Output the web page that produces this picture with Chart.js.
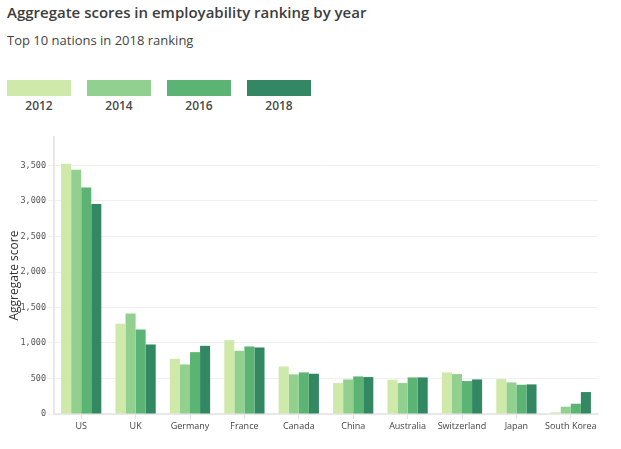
<!DOCTYPE html>
<html>
<head>
<meta charset="utf-8">
<script src="https://cdn.jsdelivr.net/npm/chart.js@4"></script>
<style>
  body { margin: 0; background: #fff; font-family: "Open Sans", sans-serif; }
  #wrap { position: relative; width: 621px; height: 449px; overflow: hidden; }
  #title { position: absolute; left: 7px; top: 2px; font-size: 15px; font-weight: 600; color: #3d3d3d; }
  #subtitle { position: absolute; left: 7px; top: 31px; font-size: 13px; color: #444; }
  #legend { position: absolute; left: 7px; top: 80px; }
  .item { position: absolute; top: 0; width: 64px; text-align: center; }
  .swatch { width: 64px; height: 16px; }
  .lbl { font-size: 12px; font-weight: 600; color: #4a4a4a; margin-top: 1px; }
  #box { position: absolute; left: 0; top: 130px; width: 610px; height: 319px; }
</style>
</head>
<body>
<div id="wrap">
  <div id="title">Aggregate scores in employability ranking by year</div>
  <div id="subtitle">Top 10 nations in 2018 ranking</div>
  <div id="legend"></div>
  <div id="box"><canvas id="c"></canvas></div>
</div>
<script>
const countries = ["US", "UK", "Germany", "France", "Canada", "China", "Australia", "Switzerland", "Japan", "South Korea"];
const years = ["2012", "2014", "2016", "2018"];
const colors = ["#cfe9ab", "#92d08f", "#5bb474", "#338763"];
const yTicks = [0, 500, 1000, 1500, 2000, 2500, 3000, 3500];

const s2012 = [3523, 1270, 778, 1040, 670, 436, 483, 586, 492, 23];
const s2014 = [3439, 1415, 698, 890, 558, 487, 436, 562, 445, 103];
const s2016 = [3190, 1190, 871, 951, 586, 529, 515, 464, 412, 145];
const s2018 = [2956, 979, 960, 937, 567, 520, 515, 487, 417, 309];
const series = [s2012, s2014, s2016, s2018];

const i = id => document.getElementById(id);

// legend: coloured strip with year below
years.forEach((y, k) => {
  const d = document.createElement("div");
  d.className = "item";
  d.style.left = (k * 80) + "px";
  d.innerHTML = '<div class="swatch" style="background:' + colors[k] + '"></div><div class="lbl">' + y + '</div>';
  i("legend").appendChild(d);
});

new Chart(i("c"), {
  type: "bar",
  data: {
    labels: countries,
    datasets: years.map((y, k) => ({
      label: y,
      data: series[k],
      backgroundColor: colors[k],
      borderWidth: 0,
      barPercentage: 1,
      categoryPercentage: 0.74
    }))
  },
  options: {
    responsive: true,
    maintainAspectRatio: false,
    animation: false,
    layout: { padding: { top: 7, right: 12, left: 0, bottom: 0 } },
    plugins: { legend: { display: false }, tooltip: { enabled: false } },
    scales: {
      x: {
        grid: { display: true, drawOnChartArea: false, offset: false, tickLength: 5, color: "#e2e2e2" },
        border: { color: "#e8e8e8", width: 2 },
        ticks: { color: "#444", font: { family: "Open Sans", size: 9 }, padding: 2, maxRotation: 0, autoSkip: false },
        afterFit: s => { s.height = 35; }
      },
      y: {
        min: 0,
        max: 3900,
        grid: { color: "#f0f0f0", tickLength: 6, lineWidth: 1 },
        border: { color: "#e8e8e8", width: 2 },
        afterBuildTicks: s => { s.ticks = yTicks.map(v => ({ value: v })); },
        ticks: {
          padding: 2,
          color: "#555",
          font: { family: "DejaVu Sans Mono", size: 8.5 },
          callback: v => v.toLocaleString("en-US")
        },
        title: { display: true, text: "Aggregate score", color: "#333", font: { family: "Open Sans", size: 12 }, padding: { top: 7, bottom: 0 } },
        afterFit: s => { s.width = 54; }
      }
    }
  }
});
</script>
</body>
</html>
